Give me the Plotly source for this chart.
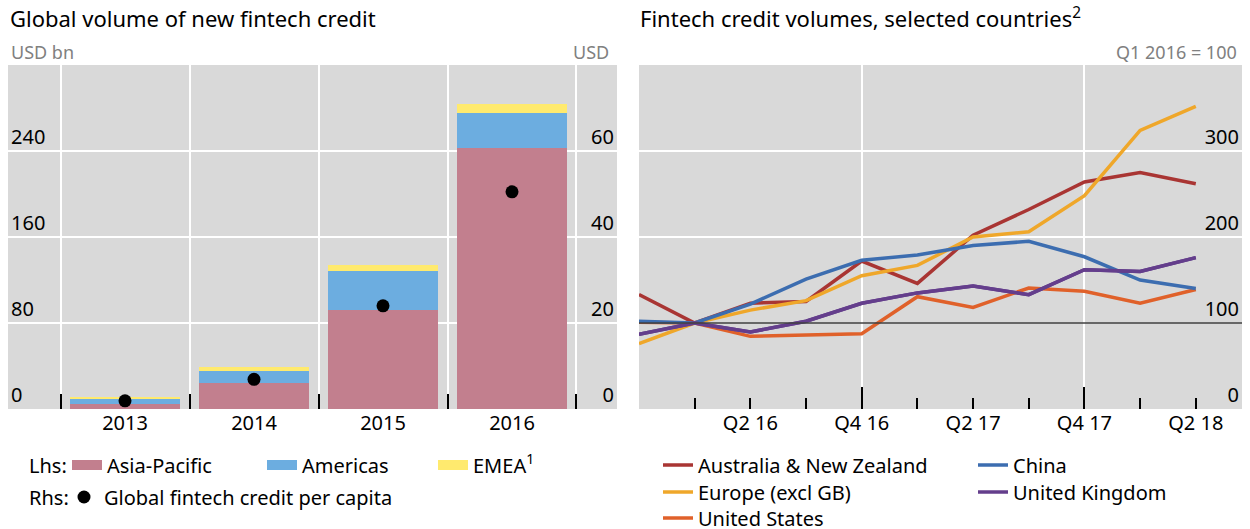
import plotly.graph_objects as go

W, H = 1250, 529
def px(x): return x / W
def py(y): return 1 - y / H

# ---------------- data ----------------
years = ["2013", "2014", "2015", "2016"]
asia_pacific = [5, 24, 92.5, 243]
americas = [4, 11, 35.5, 32]
emea = [2, 3.7, 5.5, 9]
per_capita = [1.9, 6.9, 24, 50.5]

quarters = ["Q4 15", "Q1 16", "Q2 16", "Q3 16", "Q4 16", "Q1 17",
            "Q2 17", "Q3 17", "Q4 17", "Q1 18", "Q2 18"]
aus_nz = [133, 100, 123, 125, 172, 146, 202, 232, 264, 275, 262]
europe = [76, 100, 115, 126, 155, 167, 200, 206, 248, 324, 352]
china = [102, 100, 122, 151, 173, 179, 190, 195, 177, 150, 140]
us = [101, 100, 84.5, 86, 87.6, 130.6, 118, 140.7, 137, 123, 139]
uk = [87, 100, 89.5, 102, 123, 135, 143, 133, 162, 160, 176]
quarter_labels = ["", "", "Q2 16", "", "Q4 16", "", "Q2 17", "", "Q4 17", "", "Q2 18"]
year_start_quarters = [0, 4, 8]

lhs_ticks = [0, 80, 160, 240]
rhs_ticks = [0, 20, 40, 60]
index_ticks = [0, 100, 200, 300]
index_grid = [200, 300]
base_value = 100

# ---------------- styles ----------------
FONT = "Noto Sans"
BG = "#D9D9D9"
C_AP, C_AM, C_EM = "#C27F8E", "#6CADE0", "#FFEA6E"
C_AUS, C_EUR, C_US, C_CN, C_UK = "#A93533", "#EFA72A", "#E0612A", "#3C6DB0", "#643E8C"

qx = list(range(len(quarters)))

fig = go.Figure()

# Left panel bars
for name, vals, col in [("Asia-Pacific", asia_pacific, C_AP),
                        ("Americas", americas, C_AM),
                        ("EMEA<sup>1</sup>", emea, C_EM)]:
    fig.add_trace(go.Bar(x=years, y=vals, name=name, marker=dict(color=col, line_width=0),
                         width=0.85, xaxis="x", yaxis="y", showlegend=False))

# legend proxies for bar swatches (wide rectangles)
for i, (name, col) in enumerate([("Asia-Pacific", C_AP), ("Americas", C_AM),
                                 ("EMEA<sup>1</sup>", C_EM)]):
    fig.add_trace(go.Scatter(x=[None], y=[None], mode="lines", name=name,
                             line=dict(color=col, width=15), xaxis="x", yaxis="y",
                             legend=["legend", "legend2", "legend3"][i]))

fig.add_trace(go.Scatter(x=years, y=per_capita, mode="markers",
                         name="Global fintech credit per capita",
                         marker=dict(color="black", size=13), xaxis="x", yaxis="y2",
                         legend="legend4"))

# Right panel lines
series = [("Australia & New Zealand", aus_nz, C_AUS, "legend5"),
          ("Europe (excl GB)", europe, C_EUR, "legend6"),
          ("United States", us, C_US, "legend7"),
          ("China", china, C_CN, "legend8"),
          ("United Kingdom", uk, C_UK, "legend9")]
for name, vals, col, lg in series:
    fig.add_trace(go.Scatter(x=qx, y=vals, mode="lines", name=name,
                             line=dict(color=col, width=3.5), xaxis="x3", yaxis="y3",
                             legend=lg, hoverinfo="name+y"))
# overlay axes (year-start ticks / upper gridlines) need a trace
fig.add_trace(go.Scatter(x=qx, y=uk, mode="lines", line=dict(color=C_UK, width=3.5),
                         xaxis="x4", yaxis="y4", showlegend=False, hoverinfo="skip"))

tickfont = dict(family=FONT, size=20, color="black")
ydom = [py(409), py(65)]
xr_left = [-0.907, 3.814]
xr_right = [0, 10.83]
yr_right = [0, 400]

fig.update_layout(
    width=W, height=H, margin=dict(l=0, r=0, t=0, b=0, autoexpand=False),
    paper_bgcolor="white", plot_bgcolor=BG, barmode="stack",
    font=dict(family=FONT, size=20, color="black"),
    xaxis=dict(domain=[px(8), px(617)], range=xr_left, type="category",
               tickson="boundaries", ticks="inside", ticklen=15, tickcolor="black",
               tickwidth=1.5, showgrid=True, gridcolor="white", gridwidth=2,
               tickfont=tickfont, showline=False, zeroline=False, anchor="y"),
    yaxis=dict(domain=ydom, range=[0, 320], tickvals=lhs_ticks, ticklabelposition="inside top",
               showgrid=True, gridcolor="white", gridwidth=2, zeroline=False, ticks="",
               tickfont=tickfont, anchor="x", showline=False),
    yaxis2=dict(range=[0, 80], tickvals=rhs_ticks, overlaying="y", side="right",
                ticklabelposition="inside top", showgrid=False, zeroline=False, ticks="",
                tickfont=tickfont, anchor="x", showline=False),
    xaxis3=dict(domain=[px(639), px(1242)], range=xr_right, tickvals=qx, ticktext=quarter_labels,
                ticks="inside", ticklen=11, tickcolor="black", tickwidth=1.5,
                showgrid=False, zeroline=False, tickfont=tickfont, anchor="y3", showline=False),
    xaxis4=dict(range=xr_right, overlaying="x3", anchor="y3", side="bottom",
                tickvals=year_start_quarters, ticks="inside", ticklen=22, tickcolor="black",
                tickwidth=1.5, showticklabels=False, showgrid=True, gridcolor="white",
                gridwidth=2, zeroline=False, showline=False),
    yaxis3=dict(domain=ydom, range=yr_right, tickvals=index_ticks, side="right",
                ticklabelposition="inside top", showgrid=False,
                zeroline=False, ticks="", tickfont=tickfont, anchor="x3", showline=False),
    yaxis4=dict(range=yr_right, overlaying="y3", side="right", tickvals=index_grid,
                showticklabels=False, showgrid=True, gridcolor="white", gridwidth=2,
                zeroline=False, ticks="", anchor="x3", showline=False),
    showlegend=True,
)

def leg(x, y):
    return dict(x=px(x), y=py(y), xanchor="left", yanchor="middle", orientation="v",
                bgcolor="rgba(0,0,0,0)", borderwidth=0,
                font=dict(family=FONT, size=20, color="black"))

fig.update_layout(
    legend=leg(67, 465), legend2=leg(262, 465), legend3=leg(433, 465),
    legend4=leg(64, 497),
    legend5=leg(658, 465), legend6=leg(658, 492), legend7=leg(658, 518),
    legend8=leg(973, 465), legend9=leg(973, 492),
)

# reference line at 100
fig.add_shape(type="line", xref="x3", yref="y3", x0=xr_right[0], x1=xr_right[1],
              y0=base_value, y1=base_value,
              line=dict(color="#404040", width=1.3), layer="above")

anns = [
    dict(text="Global volume of new fintech credit", x=px(8), y=py(18), xanchor="left",
         font=dict(size=22, color="black")),
    dict(text="Fintech credit volumes, selected countries<sup>2</sup>", x=px(638), y=py(18),
         xanchor="left", font=dict(size=22, color="black")),
    dict(text="USD bn", x=px(9), y=py(52), xanchor="left", font=dict(size=18, color="#808080")),
    dict(text="USD", x=px(611), y=py(52), xanchor="right", font=dict(size=18, color="#808080")),
    dict(text="Q1 2016 = 100", x=px(1239), y=py(52), xanchor="right",
         font=dict(size=18, color="#808080")),
    dict(text="Lhs:", x=px(27), y=py(465), xanchor="left", font=dict(size=20, color="black")),
    dict(text="Rhs:", x=px(27), y=py(497), xanchor="left", font=dict(size=20, color="black")),
]
for a in anns:
    a.update(xref="paper", yref="paper", yanchor="middle", showarrow=False)
    a["font"]["family"] = FONT
    fig.add_annotation(**a)

fig.write_html("out.html", config={"displayModeBar": False},
               post_script="document.body.style.margin='0';document.body.style.overflow='hidden';")
